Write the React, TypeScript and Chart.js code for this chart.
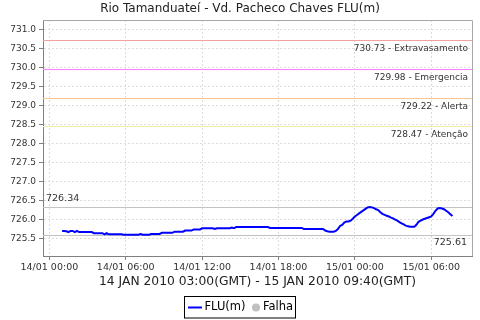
import { useEffect, useRef } from 'react';
import { Chart, registerables } from 'chart.js';

Chart.register(...registerables);

const chartTitle = 'Rio Tamanduateí - Vd. Pacheco Chaves FLU(m)';
const chartSubtitle = '14 JAN 2010 03:00(GMT) - 15 JAN 2010 09:40(GMT)';
const seriesLabel = 'FLU(m)';
const failLabel = 'Falha';

// first sample: 14/01 01:00 (local), one sample every 10 minutes
const startHour = 1;
const stepMinutes = 10;

const fluValues = [
  725.71, 725.71, 725.70, 725.68, 725.71, 725.71,
  725.68, 725.71, 725.68, 725.68, 725.68, 725.68,
  725.68, 725.68, 725.68, 725.65, 725.65, 725.65,
  725.65, 725.65, 725.62, 725.65, 725.62, 725.62,
  725.62, 725.62, 725.62, 725.62, 725.62, 725.61,
  725.61, 725.61, 725.61, 725.61, 725.61, 725.61,
  725.61, 725.63, 725.61, 725.61, 725.61, 725.61,
  725.63, 725.63, 725.63, 725.63, 725.63, 725.66,
  725.66, 725.66, 725.66, 725.66, 725.66, 725.69,
  725.69, 725.69, 725.69, 725.69, 725.72, 725.72,
  725.72, 725.72, 725.75, 725.75, 725.75, 725.75,
  725.78, 725.78, 725.78, 725.78, 725.78, 725.78,
  725.76, 725.78, 725.78, 725.78, 725.78, 725.78,
  725.78, 725.78, 725.80, 725.78, 725.81, 725.81,
  725.81, 725.81, 725.81, 725.81, 725.81, 725.81,
  725.81, 725.81, 725.81, 725.81, 725.81, 725.81,
  725.81, 725.81, 725.79, 725.79, 725.79, 725.79,
  725.79, 725.79, 725.79, 725.79, 725.79, 725.79,
  725.79, 725.79, 725.79, 725.79, 725.79, 725.79,
  725.76, 725.76, 725.76, 725.76, 725.76, 725.76,
  725.76, 725.76, 725.76, 725.76, 725.72, 725.70,
  725.69, 725.69, 725.69, 725.71, 725.76, 725.84,
  725.87, 725.93, 725.96, 725.96, 725.98, 726.03,
  726.09, 726.13, 726.17, 726.21, 726.25, 726.29,
  726.33, 726.34, 726.33, 726.31, 726.28, 726.26,
  726.20, 726.16, 726.13, 726.11, 726.09, 726.06,
  726.04, 726.01, 725.98, 725.94, 725.91, 725.88,
  725.85, 725.83, 725.82, 725.82, 725.82, 725.87,
  725.95, 725.98, 726.01, 726.03, 726.05, 726.07,
  726.09, 726.16, 726.24, 726.30, 726.31, 726.30,
  726.28, 726.24, 726.20, 726.15, 726.10,
];

const xTickHours = [0, 6, 12, 18, 24, 30];
const xTickLabels = ['14/01 00:00', '14/01 06:00', '14/01 12:00', '14/01 18:00', '15/01 00:00', '15/01 06:00'];
const yTicks = [725.5, 726.0, 726.5, 727.0, 727.5, 728.0, 728.5, 729.0, 729.5, 730.0, 730.5, 731.0];

const thresholdValues = [730.73, 729.98, 729.22, 728.47];
const thresholdNames = ['Extravasamento', 'Emergencia', 'Alerta', 'Atenção'];
const thresholdColors = ['#f4a0a0', '#ff80ff', '#fcc890', '#f4eca0'];

const maxMarker = 726.34;
const minMarker = 725.61;

const FONT = 'DejaVu Sans';

export default function App() {
  const ref = useRef<HTMLCanvasElement | null>(null);

  useEffect(() => {
    document.body.style.margin = '0';
    const canvas = ref.current;
    if (!canvas) return;

    const points = fluValues.map((v, i) => ({ x: startHour + (i * stepMinutes) / 60, y: v }));

    const decor = {
      id: 'decor',
      beforeDatasetsDraw(chart: any) {
        const { ctx, chartArea } = chart;
        const ys = chart.scales.y;
        ctx.save();
        ctx.lineWidth = 1;
        thresholdValues.forEach((v, i) => {
          const y = Math.round(ys.getPixelForValue(v)) + 0.5;
          ctx.strokeStyle = thresholdColors[i];
          ctx.beginPath();
          ctx.moveTo(chartArea.left, y);
          ctx.lineTo(chartArea.right, y);
          ctx.stroke();
        });
        [maxMarker, minMarker].forEach((v) => {
          const y = Math.round(ys.getPixelForValue(v)) + 0.5;
          ctx.strokeStyle = '#c4c4c4';
          ctx.beginPath();
          ctx.moveTo(chartArea.left, y);
          ctx.lineTo(chartArea.right, y);
          ctx.stroke();
        });
        ctx.fillStyle = '#333';
        ctx.font = `9px "${FONT}"`;
        ctx.textBaseline = 'middle';
        ctx.textAlign = 'right';
        thresholdValues.forEach((v, i) => {
          const y = ys.getPixelForValue(v);
          ctx.fillText(`${v.toFixed(2)} - ${thresholdNames[i]}`, chartArea.right - 4, y + 9);
        });
        ctx.font = `9.5px "${FONT}"`;
        ctx.textAlign = 'left';
        ctx.fillText(maxMarker.toFixed(2), chartArea.left + 3, ys.getPixelForValue(maxMarker) - 8);
        ctx.textAlign = 'right';
        ctx.fillText(minMarker.toFixed(2), chartArea.right - 5, ys.getPixelForValue(minMarker) + 8);
        ctx.restore();
      },
      afterDraw(chart: any) {
        const { ctx, chartArea } = chart;
        ctx.save();
        ctx.strokeStyle = '#a8a8a8';
        ctx.lineWidth = 1;
        ctx.beginPath();
        ctx.moveTo(chartArea.left, Math.round(chartArea.top) + 0.5);
        ctx.lineTo(Math.round(chartArea.right) + 0.5, Math.round(chartArea.top) + 0.5);
        ctx.lineTo(Math.round(chartArea.right) + 0.5, chartArea.bottom);
        ctx.stroke();

        ctx.fillStyle = '#222';
        ctx.textAlign = 'center';
        ctx.textBaseline = 'middle';
        ctx.font = `12px "${FONT}"`;
        ctx.fillText(chartTitle, 240, 8.5);
        ctx.font = `12.3px "${FONT}"`;
        ctx.fillText(chartSubtitle, (chartArea.left + chartArea.right) / 2, 281.5);

        const bx = 184.5, by = 296.5, bw = 111, bh = 21.5;
        ctx.strokeStyle = '#000';
        ctx.strokeRect(bx, by, bw, bh);
        const ly = 307.5;
        ctx.strokeStyle = '#0000ff';
        ctx.lineWidth = 2;
        ctx.beginPath();
        ctx.moveTo(188, ly);
        ctx.lineTo(202, ly);
        ctx.stroke();
        ctx.fillStyle = '#000';
        ctx.textAlign = 'left';
        ctx.font = `11.5px "${FONT}"`;
        ctx.fillText(seriesLabel, 204.5, ly);
        ctx.fillStyle = '#c0c0c0';
        ctx.beginPath();
        ctx.arc(256, ly, 4, 0, Math.PI * 2);
        ctx.fill();
        ctx.fillStyle = '#000';
        ctx.fillText(failLabel, 263, ly);
        ctx.restore();
      },
    };

    const chart = new Chart(canvas, {
      type: 'line',
      data: {
        datasets: [
          {
            label: seriesLabel,
            data: points,
            borderColor: '#0000ff',
            borderWidth: 2,
            pointRadius: 0,
            fill: false,
            tension: 0,
          },
        ],
      },
      options: {
        animation: false,
        responsive: false,
        layout: { padding: { top: 20, right: 8, left: 0, bottom: 0 } },
        plugins: {
          legend: { display: false },
          title: { display: false },
          tooltip: { enabled: false },
        },
        scales: {
          x: {
            type: 'linear',
            min: -0.5,
            max: 33.2,
            afterBuildTicks: (s: any) => {
              s.ticks = xTickHours.map((v) => ({ value: v }));
            },
            afterFit: (s: any) => {
              s.height = 64;
            },
            ticks: {
              callback: (v: any) => xTickLabels[xTickHours.indexOf(Number(v))] ?? '',
              font: { family: FONT, size: 9.5 },
              color: '#333',
              padding: 2,
              maxRotation: 0,
              autoSkip: false,
            },
            grid: { color: '#dcdcdc', tickColor: '#808080', tickLength: 4, tickBorderDash: [] },
            border: { color: '#808080', dash: [2, 2] },
          },
          y: {
            type: 'linear',
            min: 725.05,
            max: 731.26,
            afterBuildTicks: (s: any) => {
              s.ticks = yTicks.map((v) => ({ value: v }));
            },
            afterFit: (s: any) => {
              s.width = 43;
            },
            ticks: {
              callback: (v: any) => Number(v).toFixed(1),
              font: { family: FONT, size: 9 },
              color: '#333',
              padding: 3,
              autoSkip: false,
            },
            grid: { color: '#dcdcdc', tickColor: '#808080', tickLength: 4, tickBorderDash: [] },
            border: { color: '#808080', dash: [2, 2] },
          },
        },
      },
      plugins: [decor],
    });

    return () => chart.destroy();
  }, []);

  return (
    <div style={{ width: 480, height: 320, background: '#fff' }}>
      <canvas ref={ref} width={480} height={320} style={{ display: 'block' }} />
    </div>
  );
}
